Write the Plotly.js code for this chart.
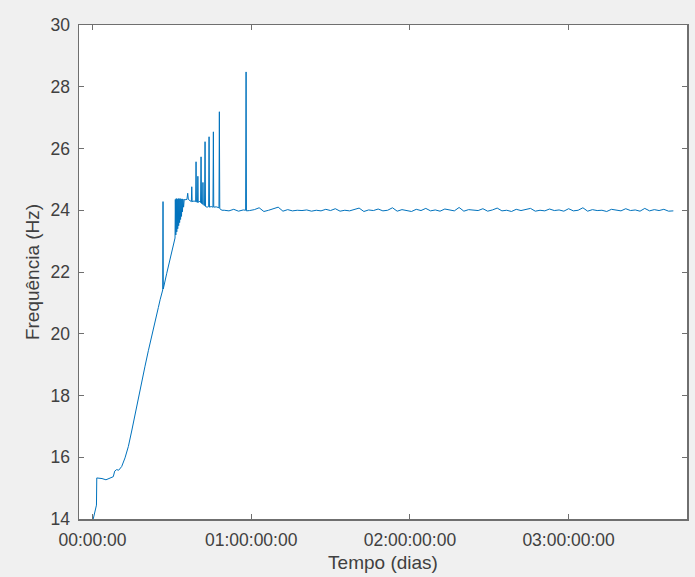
<!DOCTYPE html>
<html>
<head>
<meta charset="utf-8">
<script src="https://cdn.plot.ly/plotly-3.0.1.min.js"></script>
<style>
  html, body { margin: 0; padding: 0; background: #f0f0f0; }
  #grafico { width: 695px; height: 577px; }
</style>
</head>
<body>
<div id="grafico"></div>
<script>
// Frequência do sinal ao longo do ensaio (tempo em dias)

// Arranque e rampa de subida
const tempoRampa = [0.000, 0.020, 0.025, 0.027, 0.060, 0.085, 0.110, 0.131, 0.140, 0.152, 0.165,
  0.184, 0.205, 0.226, 0.247, 0.268, 0.289, 0.310, 0.331, 0.352, 0.373, 0.394, 0.405, 0.415,
  0.426, 0.4425, 0.4445, 0.446, 0.468, 0.499, 0.519];
const freqRampa = [13.90, 14.35, 14.45, 15.33, 15.31, 15.27, 15.33, 15.37, 15.55, 15.60, 15.58,
  15.70, 15.98, 16.35, 16.85, 17.40, 17.95, 18.45, 18.95, 19.45, 19.90, 20.30, 20.55, 20.85,
  21.10, 21.42, 24.28, 21.45, 21.96, 22.66, 23.09];

// Oscilação e picos antes da estabilização
const tempoPicos = [0.520, 0.522, 0.525, 0.528, 0.531, 0.534, 0.537, 0.540, 0.543, 0.546,
  0.549, 0.552, 0.555, 0.558, 0.561, 0.564, 0.567, 0.570, 0.574, 0.578, 0.583, 0.595, 0.600,
  0.604, 0.615, 0.623, 0.6255, 0.628, 0.640, 0.650, 0.6526, 0.655, 0.662, 0.664, 0.666, 0.675,
  0.681, 0.6841, 0.687, 0.694, 0.696, 0.698, 0.706, 0.7093, 0.712, 0.722, 0.732, 0.7346, 0.737,
  0.748, 0.759, 0.7617, 0.764, 0.780, 0.797, 0.7995, 0.802, 0.816];
const freqPicos = [23.10, 24.35, 23.20, 24.38, 23.30, 24.36, 23.40, 24.38, 23.50, 24.37,
  23.60, 24.38, 23.70, 24.36, 23.80, 24.37, 23.95, 24.36, 24.10, 24.35, 24.34, 24.35, 24.55,
  24.35, 24.30, 24.28, 24.76, 24.28, 24.30, 24.28, 25.57, 24.27, 24.26, 25.10, 24.25, 24.30,
  24.25, 25.73, 24.22, 24.20, 24.90, 24.18, 24.15, 26.22, 24.12, 24.10, 24.12, 26.38, 24.10,
  24.12, 24.10, 26.54, 24.10, 24.11, 24.08, 27.19, 24.05, 24.00];

// Patamar estável com o pico isolado
const tempoPatamar = [0.83, 0.86, 0.89, 0.92, 0.95, 0.965, 0.9678, 0.970,
  0.99, 1.02, 1.05, 1.08, 1.11, 1.14, 1.17, 1.20, 1.23, 1.26,
  1.29, 1.32, 1.35, 1.38, 1.41, 1.44, 1.47, 1.50, 1.53, 1.56,
  1.59, 1.62, 1.65, 1.68, 1.71, 1.74, 1.77, 1.80, 1.83, 1.86,
  1.89, 1.92, 1.95, 1.98, 2.01, 2.04, 2.07, 2.10, 2.13, 2.16,
  2.19, 2.22, 2.25, 2.28, 2.31, 2.34, 2.37, 2.40, 2.43, 2.46,
  2.49, 2.52, 2.55, 2.58, 2.61, 2.64, 2.67, 2.70, 2.73, 2.76,
  2.79, 2.82, 2.85, 2.88, 2.91, 2.94, 2.97, 3.00, 3.03, 3.06,
  3.09, 3.12, 3.15, 3.18, 3.21, 3.24, 3.27, 3.30, 3.33, 3.36,
  3.39, 3.42, 3.45, 3.48, 3.51, 3.54, 3.57, 3.60, 3.63, 3.66];
const freqPatamar = [24.00, 23.98, 24.03, 23.97, 24.01, 24.00, 28.48, 23.98,
  23.99, 24.02, 24.08, 23.96, 24.00, 24.06, 24.10, 23.97, 24.02, 23.98,
  24.00, 23.99, 24.01, 23.97, 24.00, 23.98, 24.03, 23.99, 24.05, 23.97,
  24.00, 23.98, 24.02, 24.07, 23.96, 24.01, 23.99, 24.04, 23.98, 24.00,
  24.08, 23.97, 24.02, 24.00, 23.96, 24.03, 23.99, 24.06, 23.98, 24.01,
  23.97, 24.04, 24.00, 23.98, 24.09, 23.97, 24.02, 24.00, 23.99, 24.05,
  23.97, 24.01, 24.07, 23.98, 24.00, 23.96, 24.03, 23.99, 24.02, 24.06,
  23.97, 24.00, 23.98, 24.04, 23.99, 24.01, 23.97, 24.05, 23.98, 24.00,
  24.08, 23.97, 24.02, 23.99, 24.00, 23.96, 24.03, 24.00, 23.98, 24.05,
  23.99, 24.01, 23.97, 24.06, 23.98, 24.02, 23.99, 24.03, 23.97, 23.98];

// Marcas dos eixos
const diasTicks = [0, 1, 2, 3];
const rotulosTempo = ['00:00:00', '01:00:00:00', '02:00:00:00', '03:00:00:00'];
const freqTicks = [14, 16, 18, 20, 22, 24, 26, 28, 30];

const tempo = tempoRampa.concat(tempoPicos, tempoPatamar);
const freq = freqRampa.concat(freqPicos, freqPatamar);

const corEixo = '#6f6f6f';
const corTexto = '#404040';
const fonte = 'Liberation Sans, Arial, sans-serif';

const trace = {
  x: tempo,
  y: freq,
  type: 'scatter',
  mode: 'lines',
  line: { color: '#0072BD', width: 1 },
  hoverinfo: 'skip'
};

const eixoComum = {
  showgrid: false,
  zeroline: false,
  showline: true,
  linecolor: corEixo,
  linewidth: 1.5,
  mirror: 'ticks',
  ticks: 'inside',
  ticklen: 5,
  tickwidth: 1,
  tickcolor: corEixo,
  automargin: false,
  tickfont: { family: fonte, size: 17.5, color: corTexto }
};

const layout = {
  width: 695,
  height: 577,
  margin: { l: 79, r: 8, t: 25, b: 58 },
  paper_bgcolor: '#f0f0f0',
  plot_bgcolor: '#ffffff',
  showlegend: false,
  xaxis: Object.assign({}, eixoComum, {
    range: [-0.085, 3.746],
    tickmode: 'array',
    tickvals: diasTicks,
    ticktext: rotulosTempo,
    ticklabelstandoff: 4,
    title: { text: 'Tempo (dias)', font: { family: fonte, size: 19, color: corTexto }, standoff: 7 }
  }),
  yaxis: Object.assign({}, eixoComum, {
    range: [14, 30],
    tickmode: 'array',
    tickvals: freqTicks,
    ticklabelstandoff: 4,
    title: { text: 'Frequência (Hz)', font: { family: fonte, size: 19, color: corTexto }, standoff: 6 }
  })
};

Plotly.newPlot('grafico', [trace], layout, { displayModeBar: false, staticPlot: true });
</script>
</body>
</html>
